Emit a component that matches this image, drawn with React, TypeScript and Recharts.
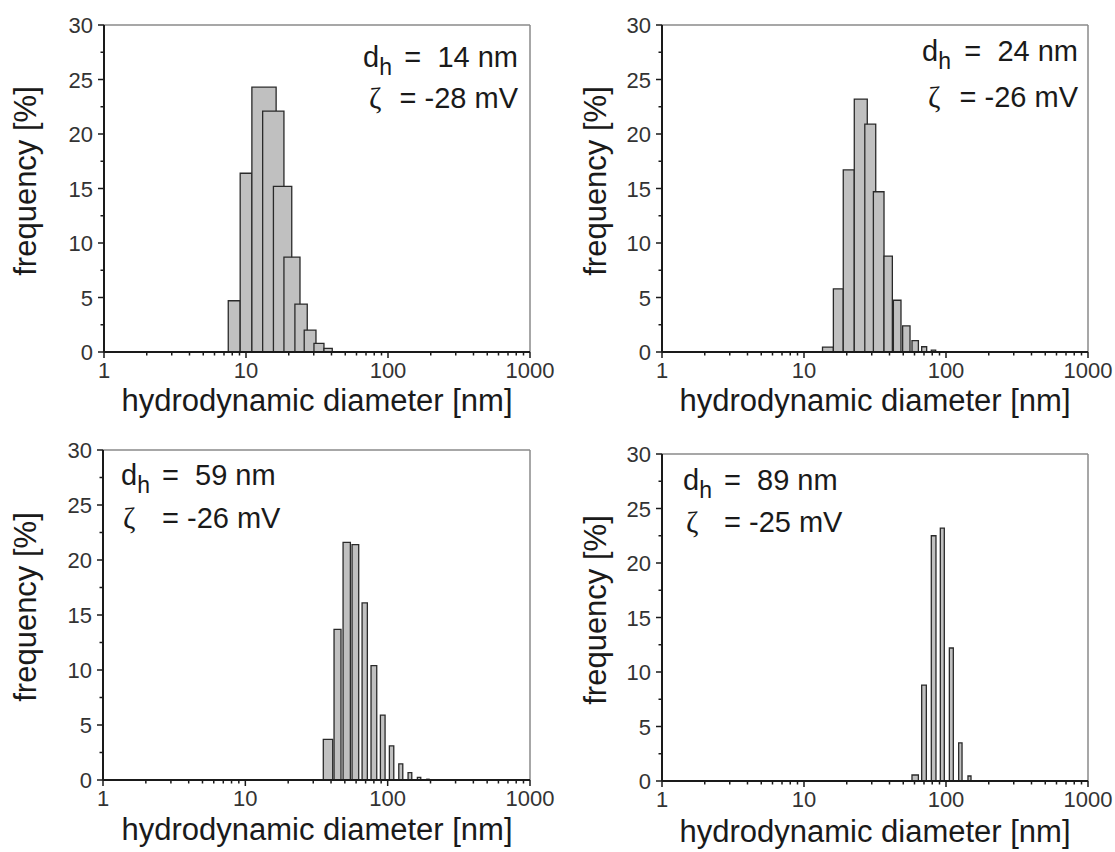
import React from 'react';
import { ComposedChart, XAxis, YAxis, ReferenceArea, ReferenceLine } from 'recharts';

// bin edges (nm) and frequency (%)
const loA = [7.5, 9.1, 11.0, 13.1, 15.6, 18.5, 22.1, 25.7, 30.1, 35.4];
const hiA = [9.1, 11.0, 16.3, 18.5, 21.0, 24.0, 27.0, 31.1, 35.4, 40.5];
const freqA = [4.7, 16.4, 24.3, 22.1, 15.2, 8.7, 4.4, 2.0, 0.8, 0.34];

const loB = [13.5, 16.1, 18.9, 22.6, 26.8, 30.8, 36.6, 42.6, 49.5, 57.6, 67.4, 78.8];
const hiB = [16.1, 18.9, 22.6, 27.9, 32.0, 36.6, 41.9, 48.2, 55.8, 63.9, 73.1, 84.6];
const freqB = [0.45, 5.8, 16.7, 23.2, 20.9, 14.7, 8.8, 4.75, 2.4, 1.05, 0.48, 0.17];

const loC = [35.3, 42.0, 48.6, 56.2, 66.1, 76.4, 88.9, 102.8, 119.7, 139.1, 161.7, 188.3];
const hiC = [41.1, 47.0, 54.7, 62.6, 72.0, 83.8, 95.9, 110.4, 127.7, 147.7, 170.8, 195.4];
const freqC = [3.7, 13.7, 21.6, 21.4, 16.1, 10.4, 5.9, 3.1, 1.47, 0.67, 0.24, 0.07];

const loD = [57.6, 67.4, 78.8, 91.2, 105.6, 122.8, 142.8];
const hiD = [63.9, 72.7, 85.0, 97.3, 112.6, 129.7, 150.0];
const freqD = [0.55, 8.8, 22.5, 23.2, 12.2, 3.5, 0.46];

const xTicks = [1, 2, 3, 4, 5, 6, 7, 8, 9, 10, 20, 30, 40, 50, 60, 70, 80, 90, 100, 200, 300, 400, 500, 600, 700, 800, 900, 1000];
const xMajor = [1, 10, 100, 1000];
const yTicks = [0, 2.5, 5, 7.5, 10, 12.5, 15, 17.5, 20, 22.5, 25, 27.5, 30];
const yMajor = [0, 5, 10, 15, 20, 25, 30];

const W = 1115;
const H = 852;
const FONT = '"Liberation Sans", Arial, sans-serif';
const INK = '#1a1a1a';

function XTick(props: any) {
  const { x, y, payload } = props;
  const major = xMajor.includes(payload.value);
  return (
    <g>
      <line x1={x} x2={x} y1={y} y2={y + (major ? 6 : 3.5)} stroke={INK} strokeWidth={1.5} />
      {major && (
        <text x={x} y={y + 26} textAnchor="middle" fontSize={22} fill="#333" fontFamily={FONT}>
          {payload.value}
        </text>
      )}
    </g>
  );
}

function YTick(props: any) {
  const { x, y, payload } = props;
  const major = yMajor.includes(payload.value);
  return (
    <g>
      <line x1={x - (major ? 6 : 3.5)} x2={x} y1={y} y2={y} stroke={INK} strokeWidth={1.5} />
      {major && (
        <text x={x - 11} y={y + 8} textAnchor="end" fontSize={22} fill="#333" fontFamily={FONT}>
          {payload.value}
        </text>
      )}
    </g>
  );
}

type Box = { left: number; top: number; right: number; bottom: number };

function Panel({ lo, hi, freq, box }: { lo: number[]; hi: number[]; freq: number[]; box: Box }) {
  const data = freq.map((f, i) => ({ d: Math.sqrt(lo[i] * hi[i]), f }));
  return (
    <div style={{ position: 'absolute', left: 0, top: 0 }}>
      <ComposedChart
        width={W}
        height={H}
        data={data}
        margin={{ left: box.left - 1, top: box.top, right: W - box.right, bottom: H - box.bottom - 1 }}
      >
        <ReferenceLine y={30} stroke="#8a8a8a" strokeWidth={1.5} />
        <ReferenceLine x={1000} stroke="#8a8a8a" strokeWidth={1.5} />
        {freq.map((f, i) => (
          <ReferenceArea
            key={i}
            x1={lo[i]}
            x2={hi[i]}
            y1={0}
            y2={f}
            fill="#c0c0c0"
            fillOpacity={1}
            stroke="#2a2a2a"
            strokeWidth={1.3}
          />
        ))}
        <XAxis
          dataKey="d"
          type="number"
          scale="log"
          domain={[1, 1000]}
          allowDataOverflow
          ticks={xTicks}
          interval={0}
          tick={<XTick />}
          tickLine={false}
          tickSize={0}
          tickMargin={0}
          height={1}
          axisLine={{ stroke: INK, strokeWidth: 2 }}
        />
        <YAxis
          type="number"
          domain={[0, 30]}
          allowDataOverflow
          ticks={yTicks}
          interval={0}
          tick={<YTick />}
          tickLine={false}
          tickSize={0}
          tickMargin={0}
          width={1}
          axisLine={{ stroke: INK, strokeWidth: 2 }}
        />
      </ComposedChart>
    </div>
  );
}

type Note = { dh: string; zeta: string; dx: number; b1: number; zx: number; b2: number; eq: number; right: boolean };

const notes: Note[] = [
  { dh: '=  14 nm', zeta: '= -28 mV', dx: 363, b1: 67, zx: 369, b2: 108, eq: 518, right: true },
  { dh: '=  24 nm', zeta: '= -26 mV', dx: 922, b1: 61, zx: 928, b2: 107, eq: 1078, right: true },
  { dh: '=  59 nm', zeta: '= -26 mV', dx: 121, b1: 485, zx: 123, b2: 528, eq: 162, right: false },
  { dh: '=  89 nm', zeta: '= -25 mV', dx: 683, b1: 490, zx: 686, b2: 532, eq: 724, right: false },
];

const yTitles = [
  { x: 36, y: 181 },
  { x: 606, y: 181 },
  { x: 36, y: 607 },
  { x: 606, y: 610 },
];
const xTitles = [
  { x: 317, y: 411 },
  { x: 875, y: 411 },
  { x: 317, y: 840 },
  { x: 875, y: 842 },
];

export default function App() {
  return (
    <div style={{ position: 'absolute', left: 0, top: 0, width: W, height: H, background: '#fff', overflow: 'hidden' }}>
      <Panel lo={loA} hi={hiA} freq={freqA} box={{ left: 104, top: 25, right: 530, bottom: 352 }} />
      <Panel lo={loB} hi={hiB} freq={freqB} box={{ left: 662, top: 25, right: 1088, bottom: 352 }} />
      <Panel lo={loC} hi={hiC} freq={freqC} box={{ left: 103, top: 450, right: 530, bottom: 780 }} />
      <Panel lo={loD} hi={hiD} freq={freqD} box={{ left: 662, top: 454, right: 1088, bottom: 781 }} />
      <svg width={W} height={H} style={{ position: 'absolute', left: 0, top: 0, pointerEvents: 'none' }}>
        <g fontFamily={FONT} fill={INK}>
          {yTitles.map((p, i) => (
            <text key={'y' + i} x={p.x} y={p.y} fontSize={31} textAnchor="middle" transform={`rotate(-90 ${p.x} ${p.y})`}>
              frequency [%]
            </text>
          ))}
          {xTitles.map((p, i) => (
            <text key={'x' + i} x={p.x} y={p.y} fontSize={31} textAnchor="middle">
              hydrodynamic diameter [nm]
            </text>
          ))}
          {notes.map((n, i) => (
            <g key={'n' + i}>
              <text x={n.dx} y={n.b1} fontSize={29}>
                d<tspan dy={8} fontSize={23}>h</tspan>
              </text>
              <text x={n.eq} y={n.b1} fontSize={29} textAnchor={n.right ? 'end' : 'start'} style={{ whiteSpace: 'pre' }}>
                {n.dh}
              </text>
              <text x={n.zx} y={n.b2} fontSize={30} fontFamily='"Liberation Serif", serif'>
                ζ
              </text>
              <text x={n.eq} y={n.b2} fontSize={29} textAnchor={n.right ? 'end' : 'start'}>
                {n.zeta}
              </text>
            </g>
          ))}
        </g>
      </svg>
    </div>
  );
}
